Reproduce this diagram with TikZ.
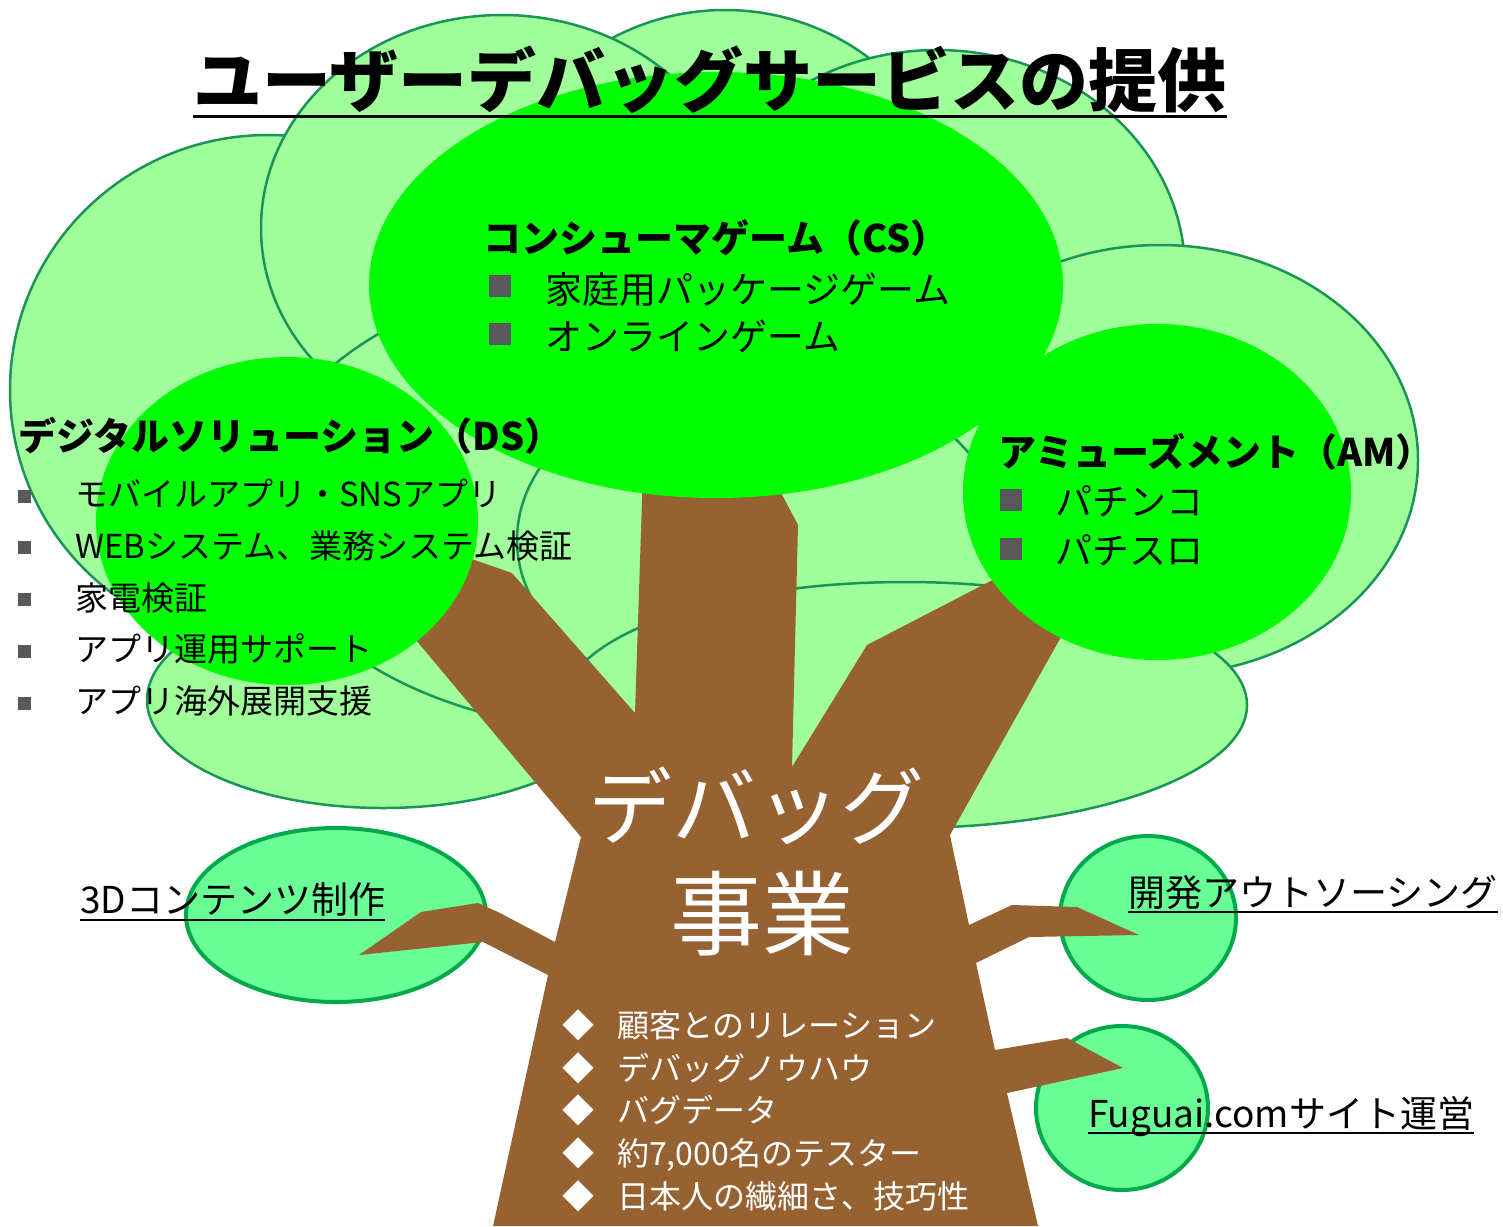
\documentclass[tikz,border=0pt]{standalone}
\usepackage{fontspec}
\setmainfont{Noto Sans CJK JP}
\usetikzlibrary{positioning}

\newcommand{\pxfont}[1]{\fontsize{#1}{#1}\selectfont}

\definecolor{leaf}{RGB}{160,255,155}
\definecolor{leafrim}{RGB}{25,150,85}
\definecolor{crown}{RGB}{0,255,0}
\definecolor{bud}{RGB}{105,255,150}
\definecolor{budrim}{RGB}{0,170,75}
\definecolor{bark}{RGB}{150,98,50}
\definecolor{bulletgray}{RGB}{89,89,89}

\tikzset{
	leafbg/.style={fill=leaf, draw=leafrim, line width=2.5pt},
	budleaf/.style={fill=bud, draw=budrim, line width=4pt},
	sq/.style={fill=bulletgray, inner sep=0pt, minimum size=22pt},
	smallsq/.style={fill=bulletgray, inner sep=0pt, minimum size=13pt},
	head/.style={anchor=base west, inner sep=0pt, font=\bfseries\pxfont{38}},
	entry/.style={anchor=base west, inner sep=0pt, font=\pxfont{37}},
	dsentry/.style={entry, font=\pxfont{33}},
	strength/.style={anchor=base west, inner sep=0pt, text=white, font=\pxfont{32}},
	side/.style={anchor=base west, inner sep=0pt, font=\pxfont{37}},
}

\begin{document}
\begin{tikzpicture}[x=1pt, y=-1pt]
	\useasboundingbox (0,0) rectangle (1503,1226);

	% crown, back to front
	\draw[leafbg] (725,250) ellipse [x radius=240pt, y radius=240pt];
	\draw[leafbg] (268,390) ellipse [x radius=258pt, y radius=255pt];
	\draw[leafbg] (502,228) ellipse [x radius=241pt, y radius=213pt];
	\draw[leafbg] (937,272) ellipse [x radius=248pt, y radius=222pt];
	\draw[leafbg] (1160,460) ellipse [x radius=258pt, y radius=215pt];
	\draw[leafbg] (383,700) ellipse [x radius=236pt, y radius=108pt];
	\draw[leafbg] (631,502) ellipse [x radius=370pt, y radius=230pt];
	\draw[leafbg] (760,540) ellipse [x radius=243pt, y radius=170pt];
	\draw[leafbg] (905,705) ellipse [x radius=342pt, y radius=123pt];

	% side buds
	\draw[budleaf] (336,915) ellipse [x radius=150pt, y radius=87pt];
	\draw[budleaf] (1148,918) ellipse [x radius=88pt, y radius=82pt];
	\draw[budleaf] (1122,1108) ellipse [x radius=86pt, y radius=82pt];

	% trunk with its branches
	\fill[bark] (643,470) -- (769,470) -- (798,525) -- (792,767) -- (867,645)
		-- (1010,571) -- (1075,612) -- (950,835)
		-- (969,925) -- (1012,905) -- (1077,907) -- (1139,935) -- (1029,937) -- (976,963)
		-- (995,1050) -- (1067,1038) -- (1123,1068) -- (1007,1093) -- (1038,1226)
		-- (493,1226) -- (548,975) -- (483,942) -- (359,955) -- (421,912)
		-- (478,903) -- (498,912) -- (555,942) -- (581,837)
		-- (400,621) -- (440,548) -- (512,573) -- (635,713) -- cycle;

	% main leaves
	\fill[crown] (716,285) ellipse [x radius=347pt, y radius=213pt];
	\fill[crown] (287,521) ellipse [x radius=191pt, y radius=164pt];
	\fill[crown] (1157,492) ellipse [x radius=194pt, y radius=168pt];

	\node[anchor=base, inner sep=0pt, font=\bfseries\pxfont{69}] (title) at (710,106) {ユーザーデバッグサービスの提供};
	\draw[line width=3pt] ([yshift=-10pt]title.base west) -- ([yshift=-10pt]title.base east);

	\node[head] (cs) at (483,252) {コンシューマゲーム（CS）};
	\node[sq] (csb1) at (500,286) {};
	\node[entry] (cs1) at (545,303) {家庭用パッケージゲーム};
	\node[sq] (csb2) at (500,334) {};
	\node[entry] (cs2) at (545,350) {オンラインゲーム};

	\node[head] (ds) at (18,450) {デジタルソリューション（DS）};
	\node[smallsq] (dsb1) at (24,496) {};
	\node[dsentry] (ds1) at (75,506) {モバイルアプリ・SNSアプリ};
	\node[smallsq] (dsb2) at (24,547) {};
	\node[dsentry] (ds2) at (75,558) {WEBシステム、業務システム検証};
	\node[smallsq] (dsb3) at (24,599) {};
	\node[dsentry] (ds3) at (75,610) {家電検証};
	\node[smallsq] (dsb4) at (24,651) {};
	\node[dsentry] (ds4) at (75,661) {アプリ運用サポート};
	\node[smallsq] (dsb5) at (24,703) {};
	\node[dsentry] (ds5) at (75,713) {アプリ海外展開支援};

	\node[head] (am) at (998,466) {アミューズメント（AM）};
	\node[sq] (amb1) at (1011,500) {};
	\node[entry] (am1) at (1055,515) {パチンコ};
	\node[sq] (amb2) at (1011,549) {};
	\node[entry] (am2) at (1055,564) {パチスロ};

	\node[anchor=base, inner sep=0pt, text=white, font=\pxfont{84}] (debug) at (756,838) {デバッグ};
	\node[anchor=base, inner sep=0pt, text=white, font=\pxfont{92}] (biz) at (762,948) {事業};

	\node[strength] (s1) at (562,1037) {◆\hspace{23pt}顧客とのリレーション};
	\node[strength] (s2) at (562,1080) {◆\hspace{23pt}デバッグノウハウ};
	\node[strength] (s3) at (562,1122) {◆\hspace{23pt}バグデータ};
	\node[strength] (s4) at (562,1165) {◆\hspace{23pt}約7,000名のテスター};
	\node[strength] (s5) at (562,1208) {◆\hspace{23pt}日本人の繊細さ、技巧性};

	\node[side] (cg) at (80,913) {3Dコンテンツ制作};
	\draw[line width=2.5pt] ([yshift=-7pt]cg.base west) -- ([yshift=-7pt]cg.base east);
	\node[side] (dev) at (1128,906) {開発アウトソーシング};
	\draw[line width=2.5pt] ([yshift=-6pt]dev.base west) -- ([yshift=-6pt]dev.base east);
	\node[side] (site) at (1088,1127) {Fuguai.comサイト運営};
	\draw[line width=2.5pt] ([yshift=-6pt]site.base west) -- ([yshift=-6pt]site.base east);
\end{tikzpicture}
\end{document}
